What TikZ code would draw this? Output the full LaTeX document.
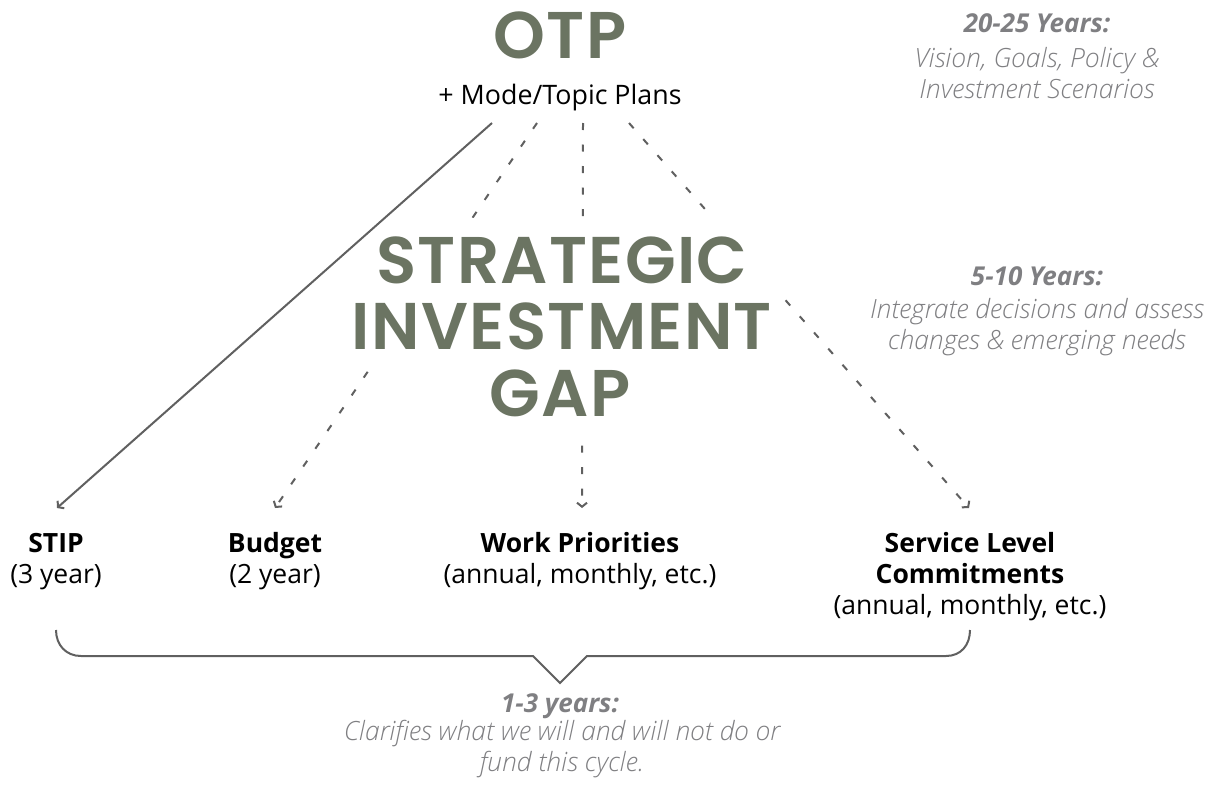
\documentclass[tikz,border=0pt]{standalone}
\usepackage{fontspec}
\usetikzlibrary{arrows.meta}
\setmainfont{Open Sans}
\IfFontExistsTF{Poppins SemiBold}{\newfontfamily\titlefontx{Poppins SemiBold}[LetterSpace=2]\newcommand\titlefont{\titlefontx}}{\newfontfamily\titlefontx{Poppins}[LetterSpace=2]\newcommand\titlefont{\titlefontx\bfseries}}
\IfFontExistsTF{Open Sans Light Italic}{\newfontfamily\lightitx{Open Sans Light Italic}\newcommand\lightit{\lightitx}}{\newcommand\lightit{\itshape}}
\definecolor{olivegray}{HTML}{6B7462}
\definecolor{linegray}{HTML}{606060}
\definecolor{notegray}{HTML}{7F7F82}
\tikzset{
  bigtitle/.style={font=\titlefont\fontsize{66}{66}\selectfont, text=olivegray, align=center, fill=white},
  lab/.style={font=\fontsize{26.5}{31}\selectfont, align=center, inner sep=0pt, anchor=base, text=black},
  notehead/.style={font=\fontsize{26}{31}\selectfont\bfseries\itshape, text=notegray, inner sep=0pt, anchor=base},
  notebody/.style={font=\fontsize{26.5}{31}\selectfont\lightit, text=notegray, align=center, inner sep=0pt, anchor=base},
  conn/.style={draw=linegray, line width=2pt, -{Straight Barb[length=4pt,width=10pt,line width=2pt]}},
  dconn/.style={conn, dash pattern=on 7pt off 14.5pt},
  bracket/.style={draw=linegray, line width=2pt, line join=miter},
}
\begin{document}
\begin{tikzpicture}[x=1pt,y=-1pt]
\useasboundingbox[fill=white] (0,0) rectangle (1214,784);
% top
\node[anchor=base, font=\titlefont\fontsize{66}{66}\selectfont, text=olivegray, inner sep=0pt] (otp) at (560,59) {OTP};
\node[anchor=base, font=\fontsize{26.8}{30}\selectfont, inner sep=0pt] (plans) at (560,104) {+ Mode/Topic Plans};
% bottom labels (anchor base = last line baseline)
\node[lab] (stip) at (56,583) {\textbf{STIP}\\(3 year)};
\node[lab] (budget) at (275,583) {\textbf{Budget}\\(2 year)};
\node[lab] (work) at (580,583) {\textbf{Work Priorities}\\(annual, monthly, etc.)};
\node[lab] (slc) at (970,614) {\textbf{Service Level}\\\textbf{Commitments}\\(annual, monthly, etc.)};
% connector points
\coordinate (s1) at (492,123);
\coordinate (s2) at (537,123);
\coordinate (s3) at (583,123);
\coordinate (s4) at (629,123);
\coordinate (e1) at (57,508);
\coordinate (e2) at (275,508);
\coordinate (e3) at (582,508);
\coordinate (e4) at (969,508);
\draw[dconn] (s2) -- (e2);
\draw[dconn] (s3) -- (e3);
\draw[dconn] (s4) -- (e4);
% big title (masks the dashed lines)
\node[bigtitle, inner xsep=4pt, inner ysep=20pt, anchor=base] (gap) at (560,416) {GAP};
\node[bigtitle, inner xsep=8pt, inner ysep=18pt, anchor=base] (sig) at (562,349) {STRATEGIC\\INVESTMENT};
\draw[conn] (s1) -- (e1);
% notes
\node[notehead] (n1h) at (1037,33) {20-25 Years:};
\node[notebody] (n1b) at (1037,98) {Vision, Goals, Policy \&\\Investment Scenarios};
\node[notehead] (n2h) at (1037,285) {5-10 Years:};
\node[notebody] (n2b) at (1037,349) {Integrate decisions and assess\\changes \& emerging needs};
\node[notehead] (n3h) at (560,712) {1-3 years:};
\node[notebody] (n3b) at (562,771) {Clarifies what we will and will not do or\\fund this cycle.};
% bracket
\draw[bracket] (56,630) .. controls (56,645) and (66,656) .. (81,656) -- (533,656) -- (560,683) -- (587,656) -- (946,656) .. controls (961,656) and (970,645) .. (970,630);
\end{tikzpicture}
\end{document}
